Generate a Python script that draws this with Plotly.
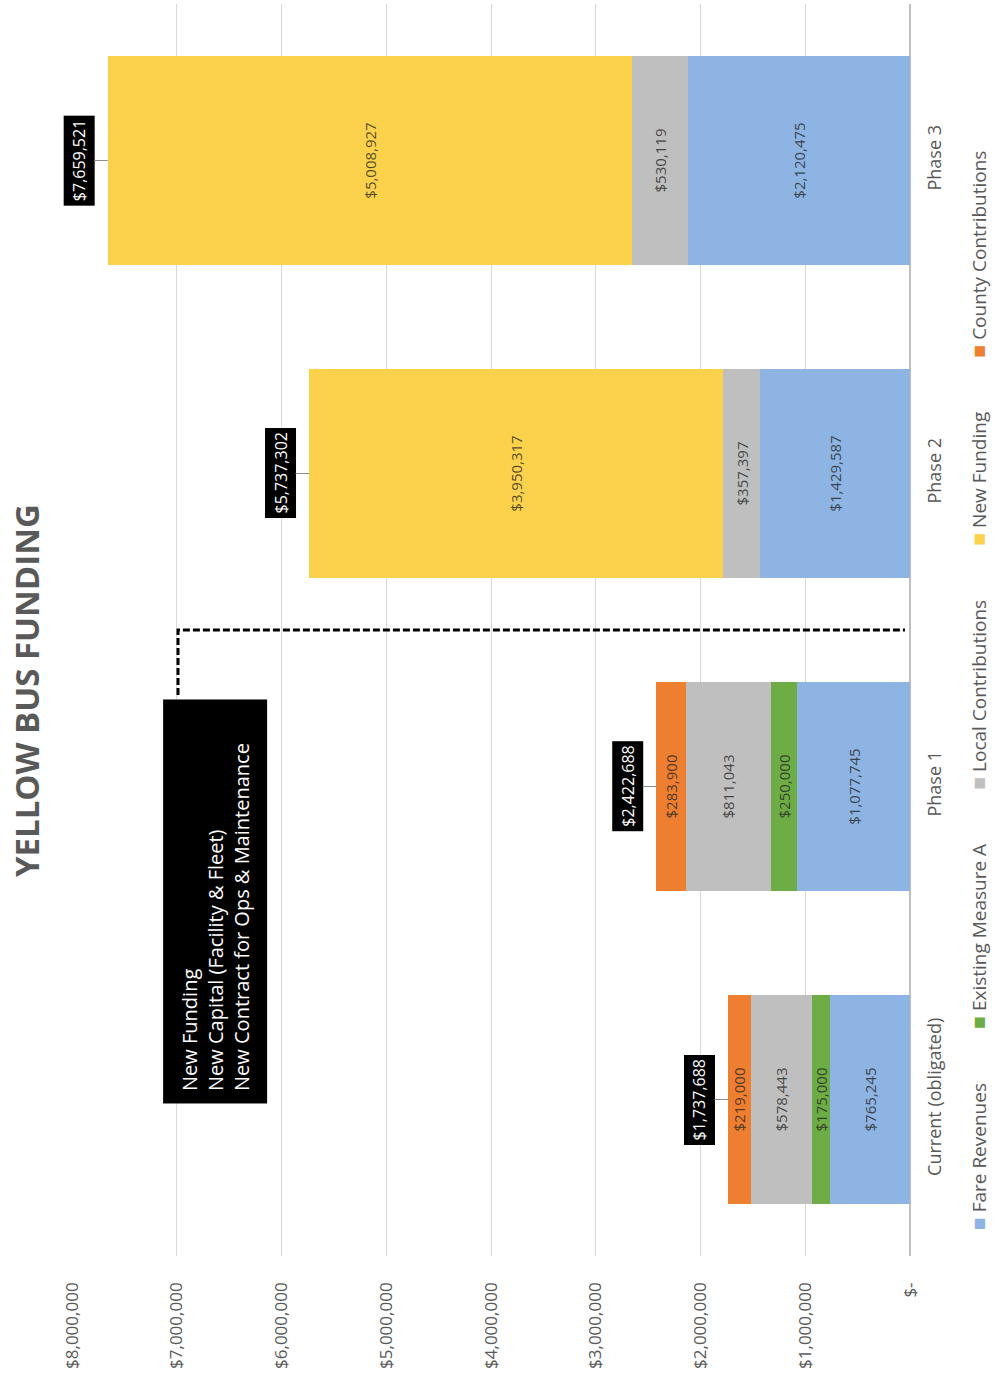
import plotly.graph_objects as go

# ---------------- data ----------------
categories = ["Current (obligated)", "Phase 1", "Phase 2", "Phase 3"]
fare_revenues = [765245, 1077745, 1429587, 2120475]
existing_measure_a = [175000, 250000, None, None]
local_contributions = [578443, 811043, 357397, 530119]
new_funding = [None, None, 3950317, 5008927]
county_contributions = [219000, 283900, None, None]
totals = [1737688, 2422688, 5737302, 7659521]

value_ticks = [0, 1000000, 2000000, 3000000, 4000000, 5000000, 6000000, 7000000, 8000000]
value_tick_labels = ["$-", "$1,000,000", "$2,000,000", "$3,000,000", "$4,000,000",
                     "$5,000,000", "$6,000,000", "$7,000,000", "$8,000,000"]

series_names = ["Fare Revenues", "Existing Measure A", "Local Contributions",
                "New Funding", "County Contributions"]
series_values = [fare_revenues, existing_measure_a, local_contributions,
                 new_funding, county_contributions]
series_colors = ["#8DB4E2", "#6EAD45", "#BFBFBF", "#FCD24C", "#EE7F31"]
legend_order = ["Fare Revenues", "Existing Measure A", "Local Contributions",
                "New Funding", "County Contributions"]

note_lines = ["New Funding", "New Capital (Facility &amp; Fleet)",
              "New Contract for Ops &amp; Maintenance"]
title_text = "YELLOW BUS FUNDING"

FONT = "Open Sans, Noto Sans, sans-serif"
GREY_TXT = "#595959"

fig = go.Figure()
for name, vals, col in zip(series_names, series_values, series_colors):
    fig.add_trace(go.Bar(
        name=name, y=categories, x=vals, orientation="h",
        marker=dict(color=col, line=dict(width=0)),
        texttemplate="$%{x:,.0f}", textposition="inside",
        insidetextanchor="middle", textangle=-90, constraintext="none",
        textfont=dict(family=FONT, size=15, color="rgba(35,35,35,0.78)"),
        showlegend=False, hoverinfo="skip",
    ))

annotations = []
# total labels
for cat, tot in zip(categories, totals):
    annotations.append(dict(
        x=tot, y=cat, xref="x", yref="y", text=f"${tot:,}",
        showarrow=True, arrowhead=0, arrowwidth=1, arrowcolor="#8C8C8C",
        ax=-29, ay=0, textangle=-90, bgcolor="black", borderpad=4,
        font=dict(family=FONT, size=16, color="white"),
    ))

# title
annotations.append(dict(
    x=-0.055, y=0.452, xref="paper", yref="paper", text=f"<b>{title_text}</b>",
    showarrow=False, textangle=-90, xanchor="center", yanchor="middle",
    font=dict(family=FONT, size=33, color=GREY_TXT),
))

# note box
note_text = "<br>".join(note_lines) + "&nbsp;" * 6
annotations.append(dict(
    x=0.171, y=0.283, xref="paper", yref="paper", text=note_text,
    showarrow=False, textangle=-90, xanchor="center", yanchor="middle",
    align="left", bgcolor="black", borderpad=12,
    font=dict(family=FONT, size=20, color="white"),
))

# legend (rotated)
gap = "&nbsp;" * 11
items = []
for name in legend_order:
    col = series_colors[series_names.index(name)]
    items.append(f"<span style='color:{col};font-size:21px'>■</span> {name}")
annotations.append(dict(
    x=1.081, y=0.452, xref="paper", yref="paper", text=gap.join(items),
    showarrow=False, textangle=-90, xanchor="center", yanchor="middle",
    font=dict(family=FONT, size=19, color=GREY_TXT),
))

fig.update_layout(
    width=994, height=1391,
    margin=dict(l=72, r=84, t=4, b=135),
    paper_bgcolor="white", plot_bgcolor="white",
    barmode="stack", bargap=0.33,
    annotations=annotations,
    shapes=[dict(
        type="path", xref="paper", yref="paper",
        path="M 0.1265 0.448 L 0.1265 0.5 L 0.994 0.5",
        line=dict(color="black", width=3, dash="7px,3px"),
    )],
    xaxis=dict(
        range=[8000000, 0], tickvals=value_ticks, ticktext=value_tick_labels,
        tickangle=-90, side="bottom", showgrid=True, gridcolor="#D9D9D9",
        gridwidth=1, zeroline=True, zerolinecolor="#BFBFBF", zerolinewidth=1.5,
        showline=False, ticklabelstandoff=22,
        tickfont=dict(family=FONT, size=17, color=GREY_TXT),
    ),
    yaxis=dict(
        side="right", tickangle=-90, showgrid=False, zeroline=False,
        showline=False, ticklabelstandoff=12,
        tickfont=dict(family=FONT, size=18, color=GREY_TXT),
    ),
)

fig.write_html("out.html", config={"displayModeBar": False},
               post_script="document.body.style.margin='0';")
